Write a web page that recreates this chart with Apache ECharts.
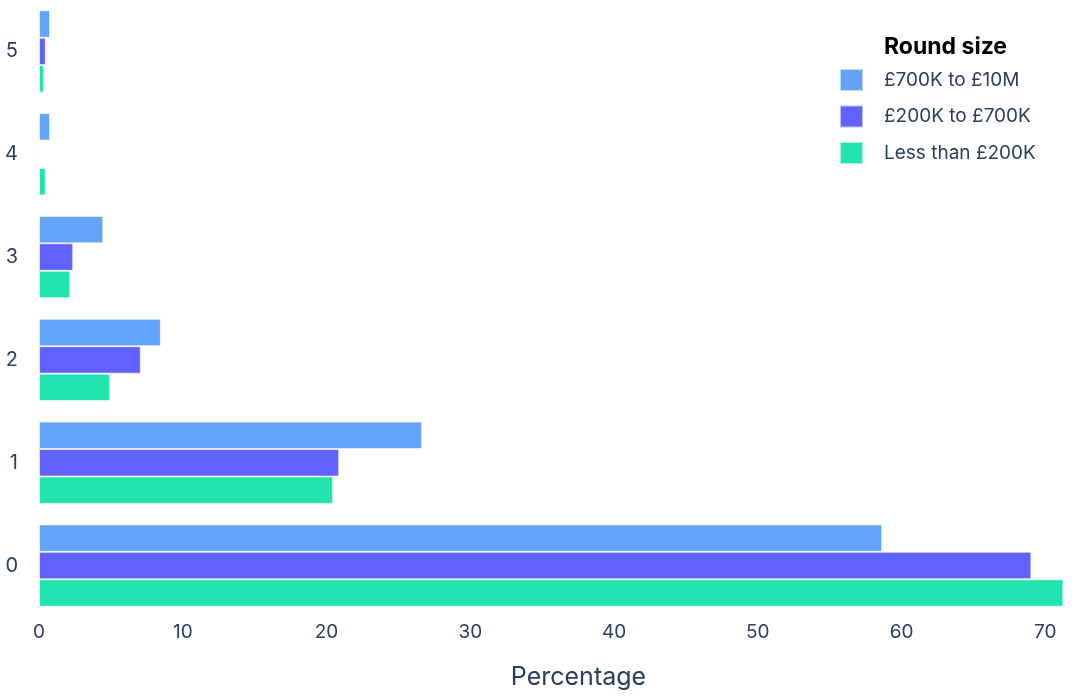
<!DOCTYPE html>
<html>
<head>
<meta charset="utf-8">
<script src="https://cdn.jsdelivr.net/npm/echarts@6/dist/echarts.min.js"></script>
<style>
html,body{margin:0;padding:0;background:#fff;}
#chart{width:1077px;height:699px;}
</style>
</head>
<body>
<div id="chart"></div>
<script>
const categories = ['0', '1', '2', '3', '4', '5'];
const seriesNames = ['£700K to £10M', '£200K to £700K', 'Less than £200K'];
const valuesHigh = [58.66, 26.65, 8.48, 4.47, 0.77, 0.77];
const valuesMid = [69.03, 20.88, 7.08, 2.38, 0.08, 0.47];
const valuesLow = [71.26, 20.46, 4.95, 2.17, 0.47, 0.35];
const xTicks = [0, 10, 20, 30, 40, 50, 60, 70];
const colors = ['#63A4FA', '#6161FF', '#21E3AF'];

const chart = echarts.init(document.getElementById('chart'), null, {renderer: 'canvas'});
const font = 'Inter, "Noto Sans", sans-serif';
function barSeries(name, data, color) {
  return {
    name: name, type: 'bar', data: data,
    barGap: '0%', barCategoryGap: '20%',
    itemStyle: {color: color, borderColor: 'rgba(255,255,255,0.6)', borderWidth: 1},
    emphasis: {disabled: true}
  };
}
chart.setOption({
  animation: false,
  textStyle: {fontFamily: font},
  grid: {left: 39, right: 13, top: -4, bottom: 82, containLabel: false},
  legend: {
    data: seriesNames,
    orient: 'vertical', left: 834, top: 63,
    itemWidth: 23, itemHeight: 22, itemGap: 12.5,
    icon: 'rect',
    textStyle: {fontSize: 19, color: '#2a3f5f', fontFamily: font, padding: [0, 0, 0, 16]}
  },
  graphic: [{
    type: 'text', left: 884, top: 36,
    style: {text: 'Round size', font: 'bold 23px ' + font, fill: '#000'}
  }],
  xAxis: {
    type: 'value', min: 0, max: 71.3, interval: 10,
    name: 'Percentage', nameLocation: 'middle', nameGap: 48,
    nameTextStyle: {fontSize: 25, color: '#2a3f5f', fontFamily: font, padding: [0, 0, 0, 54]},
    axisLine: {show: false}, axisTick: {show: false},
    splitLine: {show: false},
    axisLabel: {fontSize: 19, color: '#2a3f5f', margin: 6, fontFamily: font,
      formatter: v => xTicks.includes(v) ? String(v) : ''}
  },
  yAxis: {
    type: 'category', data: categories,
    axisLine: {show: false}, axisTick: {show: false},
    splitLine: {show: false},
    axisLabel: {fontSize: 20, color: '#2a3f5f', margin: 21, fontFamily: font}
  },
  series: [
    barSeries(seriesNames[0], valuesHigh, colors[0]),
    barSeries(seriesNames[1], valuesMid, colors[1]),
    barSeries(seriesNames[2], valuesLow, colors[2])
  ]
});
</script>
</body>
</html>
